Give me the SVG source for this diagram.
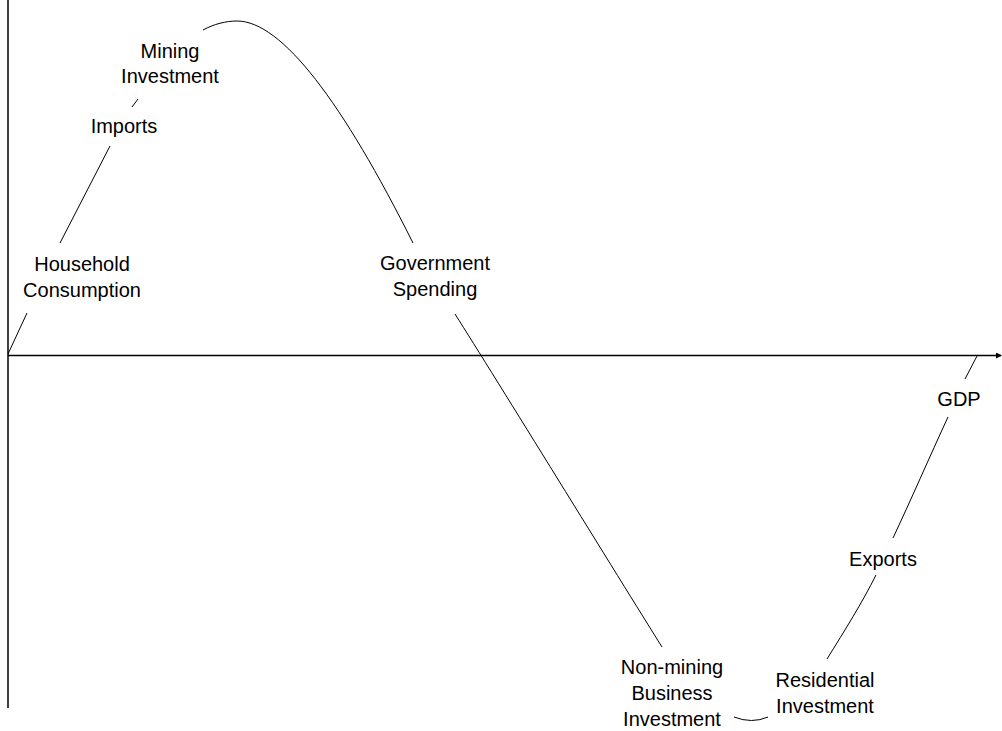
<svg xmlns="http://www.w3.org/2000/svg" width="1002" height="731" viewBox="0 0 1002 731">
<style>
.lbl{font-family:"Liberation Sans",Arial,sans-serif;font-size:20px;fill:#000;text-anchor:middle}
.ax{stroke:#000;stroke-width:1.5;fill:none}
.cv{stroke:#000;stroke-width:1;fill:none}
</style>
<defs>
<marker id="ah" markerWidth="6" markerHeight="6" refX="5" refY="3" orient="auto" markerUnits="userSpaceOnUse">
<path d="M0,0 L6,3 L0,6 Z" fill="#000"/>
</marker>
</defs>
<rect width="1002" height="731" fill="#fff"/>
<g id="axes">
<line class="ax" x1="8" y1="0" x2="8" y2="708"/>
<line class="ax" x1="8" y1="355.5" x2="1001" y2="355.5" marker-end="url(#ah)"/>
</g>
<g id="connectors">
<path class="cv" d="M8,354 L27,313"/>
<path class="cv" d="M60,243 L110,146"/>
<path class="cv" d="M132,107 L138,99"/>
<path class="cv" d="M203,30 C214,24 226,21 237,21 C282,21 343,103 413,243"/>
<path class="cv" d="M455,314 C495,377 620,580 662,647"/>
<path class="cv" d="M734,717 Q752,724 768,717"/>
<path class="cv" d="M827,659 C845,630 862,603 876,575"/>
<path class="cv" d="M893,538 C910,502 930,456 948,417"/>
<path class="cv" d="M965,379 L977,356"/>
</g>
<g id="household"><text class="lbl" x="82" y="271">Household</text><text class="lbl" x="82" y="297">Consumption</text></g>
<g id="imports"><text class="lbl" x="124" y="133">Imports</text></g>
<g id="mining"><text class="lbl" x="170" y="58">Mining</text><text class="lbl" x="170" y="83">Investment</text></g>
<g id="government"><text class="lbl" x="435" y="270">Government</text><text class="lbl" x="435" y="296">Spending</text></g>
<g id="nonmining"><text class="lbl" x="672" y="674">Non-mining</text><text class="lbl" x="672" y="700">Business</text><text class="lbl" x="672" y="726">Investment</text></g>
<g id="residential"><text class="lbl" x="825" y="687">Residential</text><text class="lbl" x="825" y="713">Investment</text></g>
<g id="exports"><text class="lbl" x="883" y="566">Exports</text></g>
<g id="gdp"><text class="lbl" x="959" y="406">GDP</text></g>
</svg>
